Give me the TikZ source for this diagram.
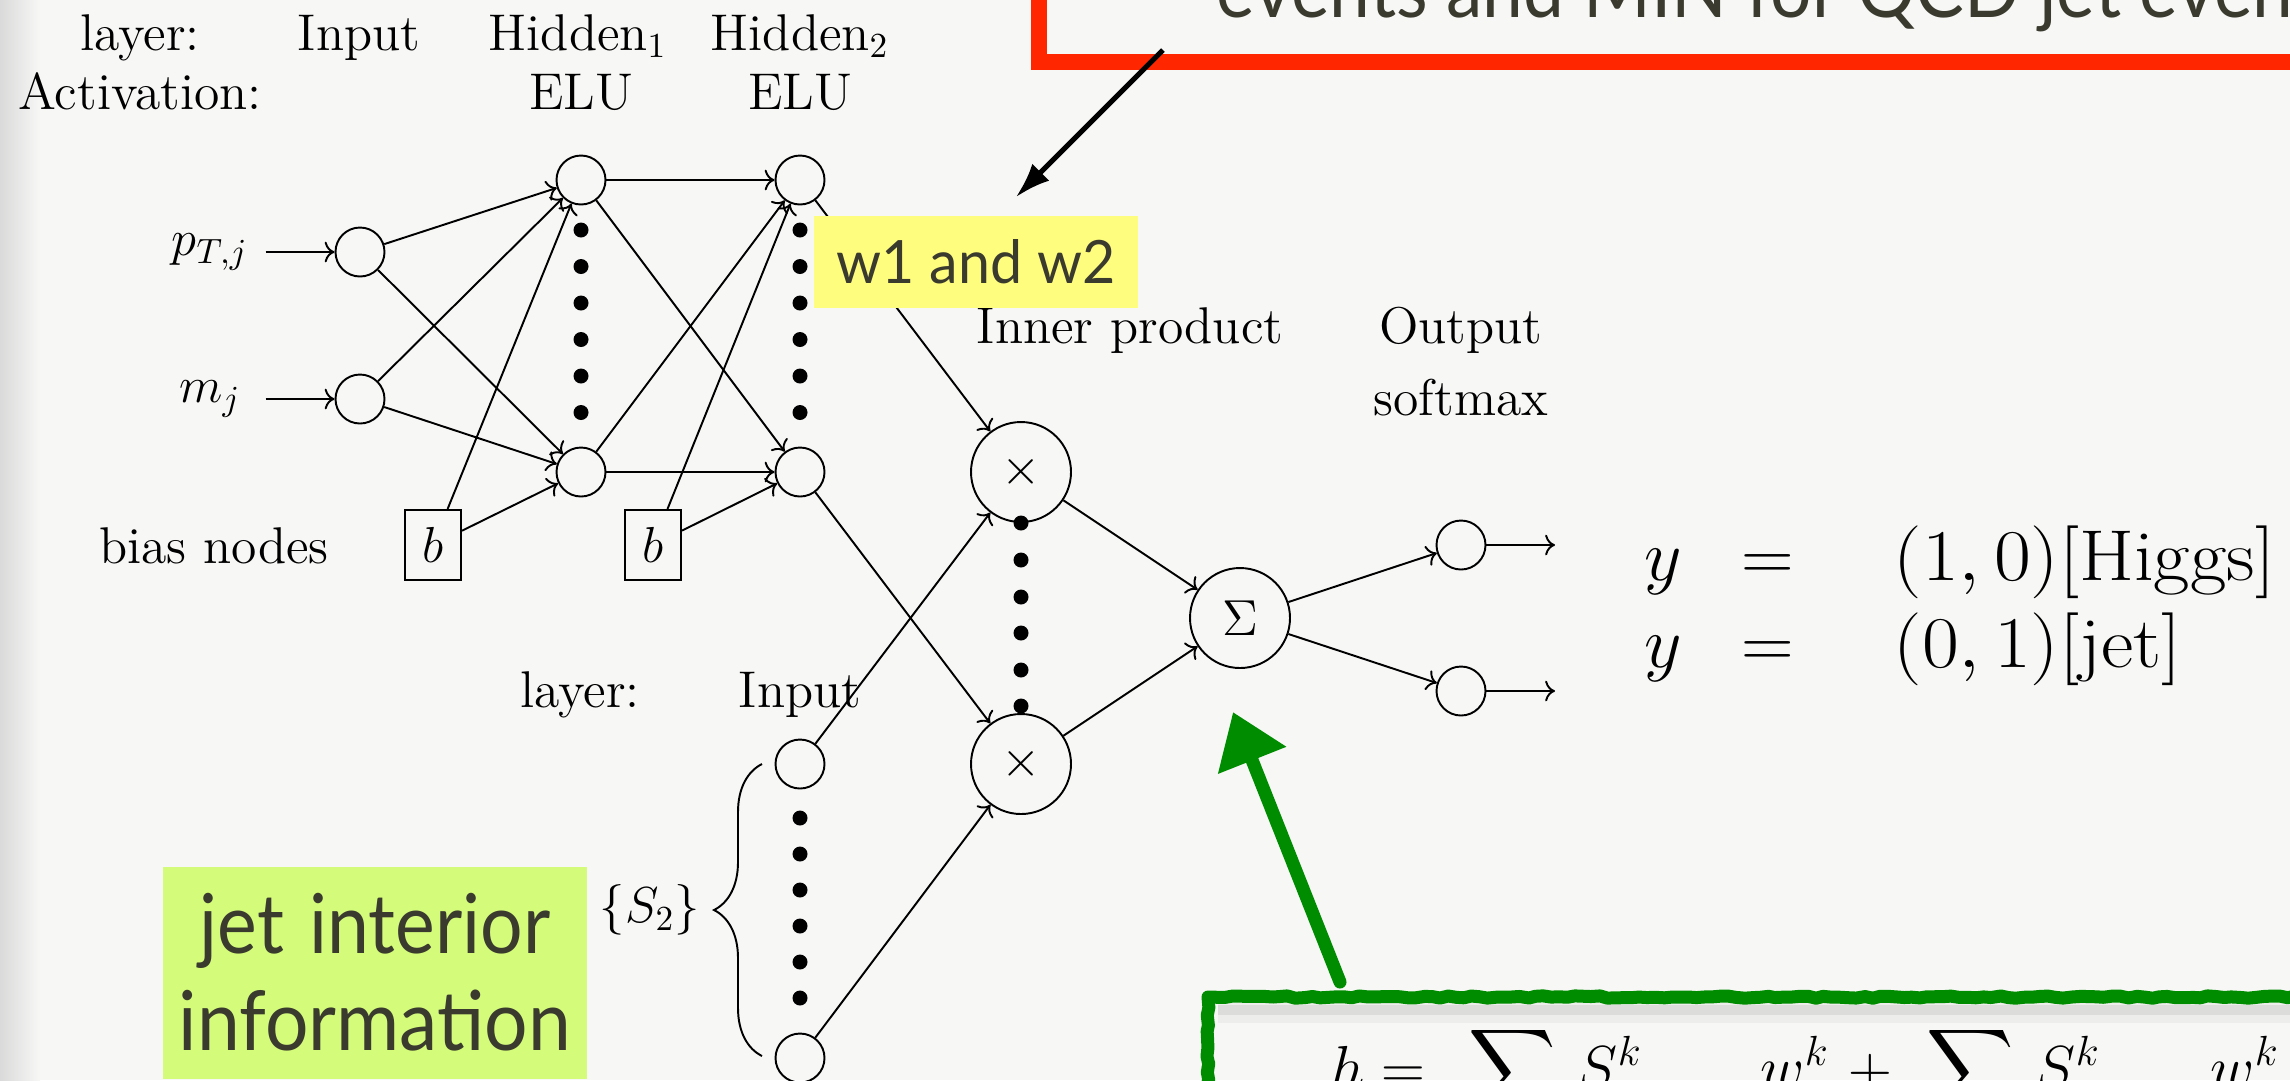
\documentclass[tikz,border=0pt]{standalone}
\usepackage{graphicx}
\usepackage{amsmath}
\usepackage{fontspec}
\newfontfamily\slidefont{Lato}
\usetikzlibrary{arrows.meta,decorations.pathreplacing,decorations.pathmorphing}

\definecolor{slidebg}{RGB}{247,247,246}
\definecolor{edgegray}{RGB}{218,218,218}
\definecolor{slidetext}{RGB}{58,58,46}
\definecolor{notered}{RGB}{255,38,0}
\definecolor{noteyellow}{RGB}{255,253,125}
\definecolor{notelime}{RGB}{212,251,122}
\definecolor{chalkgreen}{RGB}{0,140,0}

% condensed slide lettering
\newcommand{\narrow}[2][0.93]{\scalebox{#1}[1]{#2}}

\begin{document}
\begin{tikzpicture}[x=0.1mm,y=-0.1mm,
  lbl/.style={font=\fontsize{14.7}{17.6}\selectfont, inner sep=0pt},
  inlbl/.style={lbl, minimum width=11mm},
  neuron/.style={circle, draw, line width=0.55pt, minimum size=4.9mm, inner sep=0pt},
  opnode/.style={circle, draw, line width=0.55pt, minimum size=10mm, inner sep=0pt,
    font=\fontsize{14.7}{17.6}\selectfont},
  biasbox/.style={rectangle, draw, line width=0.55pt, inner sep=1.75mm,
    font=\fontsize{14.7}{17.6}\selectfont},
  wire/.style={->, line width=0.55pt},
  eqtxt/.style={font=\fontsize{20.5}{24}\selectfont, inner sep=0pt},
  fmtxt/.style={font=\fontsize{17.28}{21}\selectfont, inner sep=0pt, anchor=base west},
  slide/.style={font=\slidefont, text=slidetext},
  chalk/.style={draw=chalkgreen, line width=1.3mm, line cap=round, line join=round,
    decorate, decoration={random steps, segment length=0.8mm, amplitude=0.12mm}},
]
\useasboundingbox (0,0) rectangle (2290,1080);
\clip (0,0) rectangle (2290,1080);

% slide background with the shaded left edge
\fill[slidebg] (0,0) rectangle (2290,1080);
\shade[left color=edgegray, right color=slidebg] (0,0) rectangle (40,1080);

% red callout frame at the top
\draw[notered, line width=1.6mm, line join=miter] (2400,62) -- (1039,62) -- (1039,-120);
\node[slide, font=\slidefont\fontsize{22.6}{27}\selectfont, anchor=base west, inner sep=0pt]
  (toptxt) at (1216,17) {\narrow[0.92]{events and MIN for QCD jet events}};

% column headings
\node[lbl, anchor=base] (hdL) at (140,50) {layer:};
\node[lbl, anchor=base] (hdI) at (359,50) {Input};
\node[lbl, anchor=base] (hdH1) at (578,50) {Hidden$_1$};
\node[lbl, anchor=base] (hdH2) at (800,50) {Hidden$_2$};
\node[lbl, anchor=base] (hdA) at (140,109) {Activation:};
\node[lbl, anchor=base] (hdE1) at (581,109) {ELU};
\node[lbl, anchor=base] (hdE2) at (800,109) {ELU};

% input layer
\node[neuron] (in1) at (360,252) {};
\node[neuron] (in2) at (360,399) {};
\node[inlbl] (lp) at (210,252) {$p_{T,j}$};
\node[inlbl] (lm) at (210,399) {$m_j$};

% hidden layers
\node[neuron] (h1a) at (581,180) {};
\node[neuron] (h1b) at (581,472) {};
\node[neuron] (h2a) at (800,180) {};
\node[neuron] (h2b) at (800,472) {};

% bias nodes
\node[lbl, anchor=base] (bl) at (214,563) {bias nodes};
\node[biasbox] (b1) at (433,545) {$b$};
\node[biasbox] (b2) at (653,545) {$b$};

% second input (jet interior) column
\node[lbl, anchor=base] (ll) at (580,707) {layer:};
\node[lbl, anchor=base] (li) at (800,707) {Input};
\node[neuron] (s1) at (800,764) {};
\node[neuron] (s2) at (800,1058) {};
\node[lbl] (S2) at (650,910) {$\{S_2\}$};
\draw[decorate, decoration={brace, amplitude=4.8mm}, line width=0.55pt]
  (762,1056) -- (762,764);

% inner product, sum and output
\node[opnode] (x1) at (1021,472) {$\times$};
\node[opnode] (x2) at (1021,764) {$\times$};
\node[opnode] (sig) at (1240,618) {$\Sigma$};
\node[neuron] (o1) at (1461,545) {};
\node[neuron] (o2) at (1461,691) {};
\coordinate (o1e) at (1555,545);
\coordinate (o2e) at (1555,691);
\node[lbl, anchor=base] (lip) at (1130,343) {Inner product};
\node[lbl, anchor=base] (lout) at (1461,343) {Output};
\node[lbl, anchor=base] (lsm) at (1461,415) {softmax};

% connections
\draw[wire] (lp) -- (in1);
\draw[wire] (lm) -- (in2);
\foreach \a in {in1,in2,b1} {
  \draw[wire] (\a) -- (h1a);
  \draw[wire] (\a) -- (h1b);
}
\foreach \a in {h1a,h1b,b2} {
  \draw[wire] (\a) -- (h2a);
  \draw[wire] (\a) -- (h2b);
}
\draw[wire] (h2a) -- (x1);
\draw[wire] (h2b) -- (x2);
\draw[wire] (s1) -- (x1);
\draw[wire] (s2) -- (x2);
\draw[wire] (x1) -- (sig);
\draw[wire] (x2) -- (sig);
\draw[wire] (sig) -- (o1);
\draw[wire] (sig) -- (o2);
\draw[wire] (o1) -- (o1e);
\draw[wire] (o2) -- (o2e);

% vertical ellipsis dots
\foreach \y in {230,266.5,303,339.5,376,412.5} {
  \fill (581,\y) circle[radius=0.75mm];
  \fill (800,\y) circle[radius=0.75mm];
}
\foreach \y in {523,560,597,633,670,706}
  \fill (1021,\y) circle[radius=0.75mm];
\foreach \y in {818,854,890,926,962,998}
  \fill (800,\y) circle[radius=0.75mm];

% target labels
\node[eqtxt, anchor=base] (y1) at (1663,580) {$y$};
\node[eqtxt, anchor=base] (e1) at (1768,580) {$=$};
\node[eqtxt, anchor=base west] (r1) at (1893,580) {\scalebox{1.1}[1]{$(1,0)[\mathrm{Higgs}]$}};
\node[eqtxt, anchor=base] (y2) at (1663,667) {$y$};
\node[eqtxt, anchor=base] (e2) at (1768,667) {$=$};
\node[eqtxt, anchor=base west] (r2) at (1893,667) {\scalebox{1.1}[1]{$(0,1)[\mathrm{jet}]$}};

% highlighted notes
\node[slide, fill=noteyellow, minimum width=32.4mm, minimum height=9.2mm, inner sep=0pt,
  font=\slidefont\fontsize{17}{20}\selectfont] (w12) at (976,262) {\narrow[0.96]{w1 and w2}};
\coordinate (cfrom) at (1163,50);
\coordinate (cto) at (1016,197);
\draw[line width=0.5mm, -{Latex[length=3.5mm,width=2.4mm]}] (cfrom) -- (cto);

\node[slide, fill=notelime, anchor=north, minimum width=42.4mm, text width=42.4mm,
  align=center, inner xsep=0pt, inner ysep=2.7mm,
  font=\slidefont\fontsize{23.5}{27.6}\selectfont] (jii) at (375,866)
  {\narrow[0.91]{jet interior}\\\narrow[0.93]{information}};

% green frame around the formula, with its soft shadow
\draw[black, opacity=0.07, line width=1.0mm] (1218,1010) -- (2400,1010);
\draw[black, opacity=0.04, line width=2.0mm] (1218,1013) -- (2400,1013);
\draw[chalk] (1208,1200) -- (1208,997) -- (2400,997);
\coordinate (gfrom) at (1340,982);
\coordinate (gto) at (1233,712);
\draw[draw=chalkgreen, fill=chalkgreen, line width=1.3mm, line cap=round,
  -{Triangle[length=5.2mm,width=7mm]}] (gfrom) -- (gto);

% formula inside the green frame
\node[fmtxt] (f1) at (1330,1088) {$h=$};
\node[fmtxt] (f2) at (1468,1088) {$\displaystyle\sum$};
\node[fmtxt] (f3) at (1577,1088) {$S^k$};
\node[fmtxt] (f4) at (1760,1088) {$w^k$};
\node[fmtxt] (f5) at (1848,1088) {$+$};
\node[fmtxt] (f6) at (1926,1088) {$\displaystyle\sum$};
\node[fmtxt] (f7) at (2035,1088) {$S^k$};
\node[fmtxt] (f8) at (2210,1088) {$w^k$};
\end{tikzpicture}
\end{document}
